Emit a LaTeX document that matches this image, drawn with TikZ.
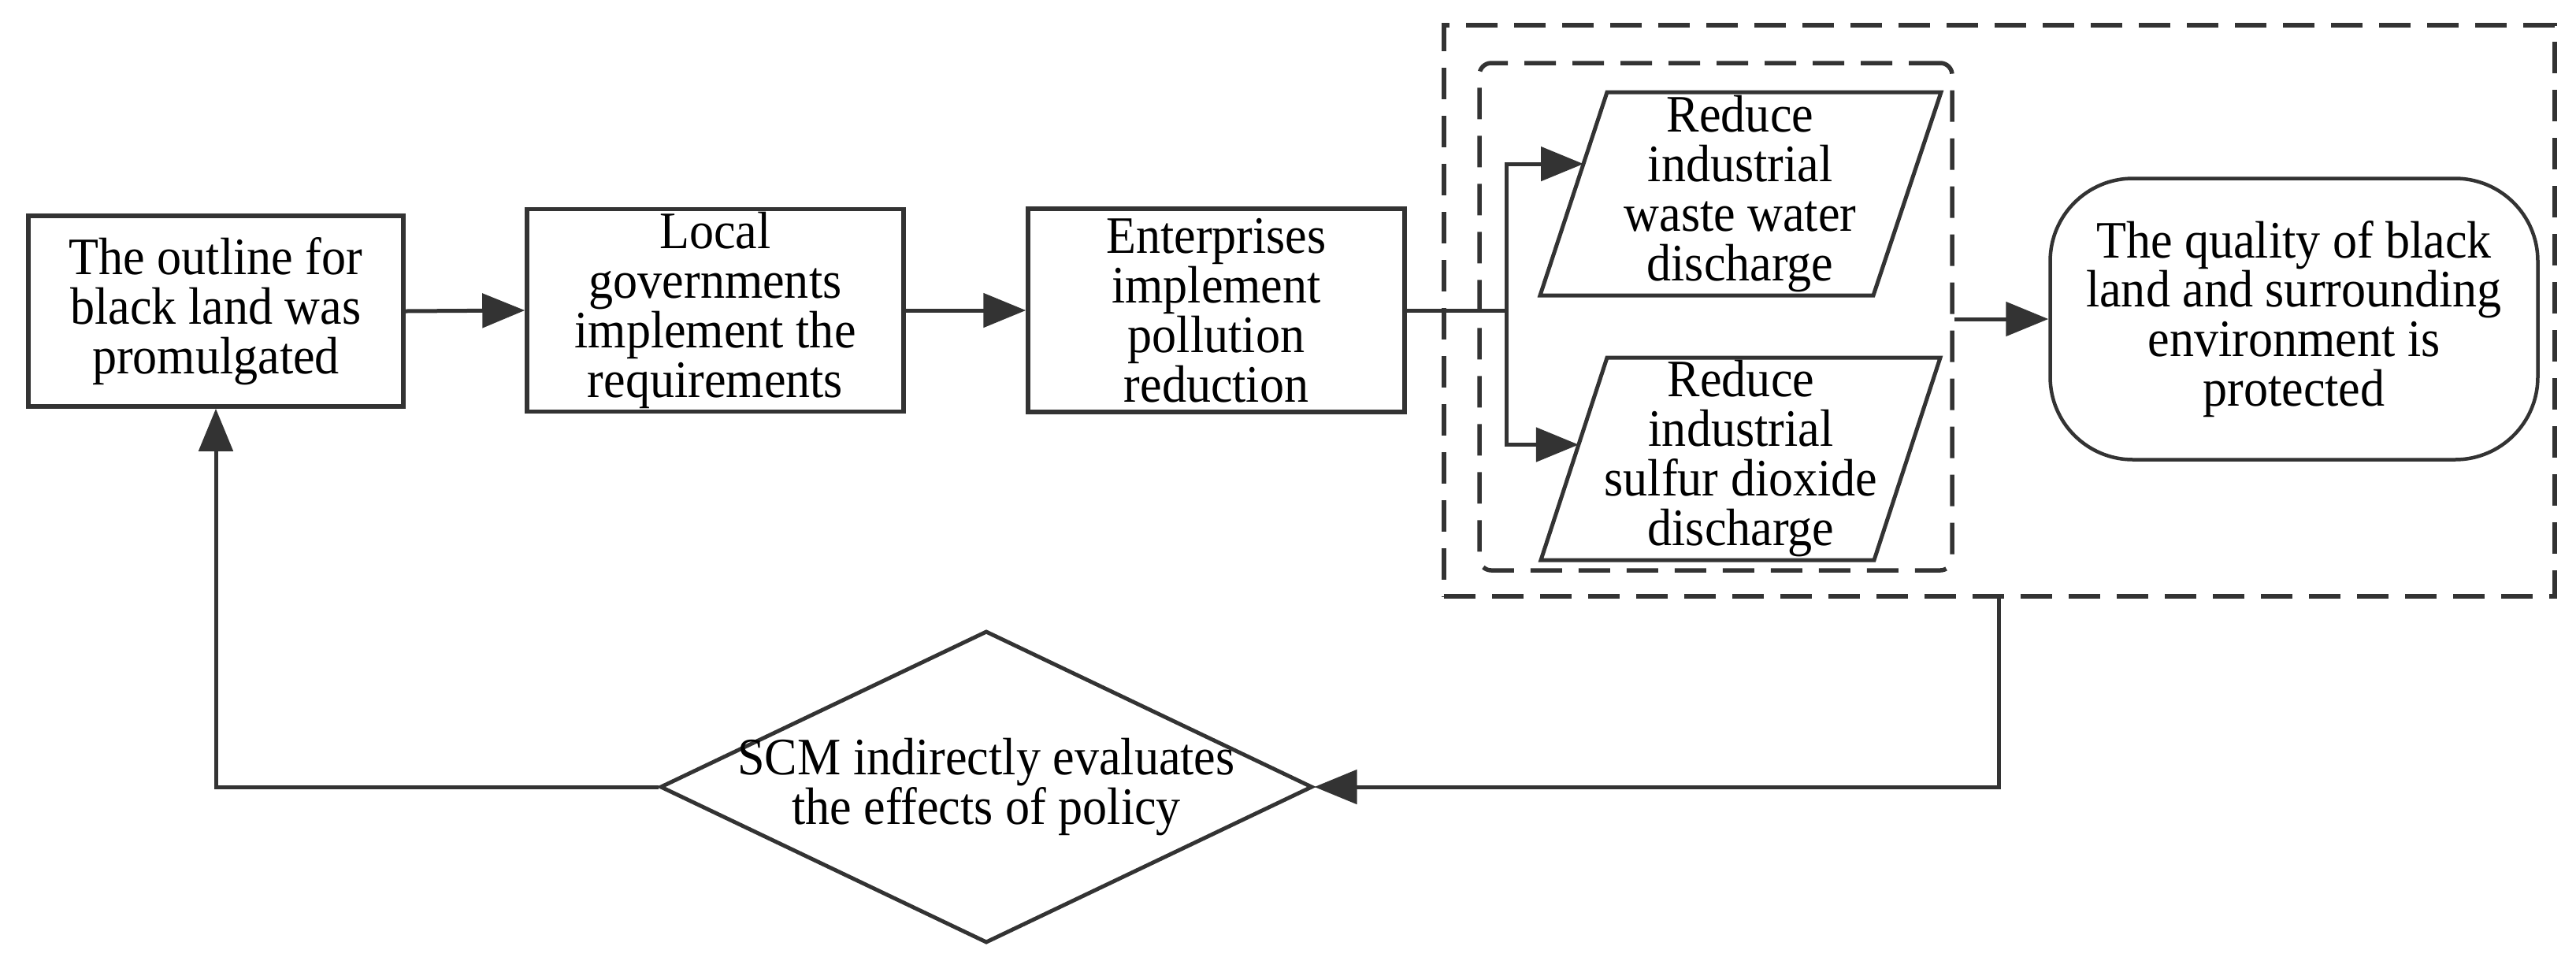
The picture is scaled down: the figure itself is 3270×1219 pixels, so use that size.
\documentclass[tikz,border=0pt]{standalone}
\usepackage{fontspec}
\setmainfont[FakeStretch=0.93]{Liberation Serif}
\usetikzlibrary{arrows.meta,shapes.geometric,fit,calc}
\definecolor{ln}{HTML}{333333}
\begin{document}
\begin{tikzpicture}[x=0.1mm,y=-0.1mm,
  font=\fontsize{19}{17.9}\selectfont,
  box/.style={draw=ln, line width=0.55mm, fill=white, align=center, inner sep=0},
  arr/.style={draw=ln, line width=0.5mm, -{Triangle[length=5.4mm,width=4.3mm]}},
  plain/.style={draw=ln, line width=0.5mm},
  dsh/.style={draw=ln, line width=0.55mm, dash pattern=on 4mm off 2.1mm},
  pg/.style={draw=ln, line width=0.5mm, fill=white},
  txt/.style={align=center, inner sep=0}
]
\useasboundingbox (0,0) rectangle (3270,1219);

% dashed groups
\coordinate (o1) at (1833,32);
\coordinate (o2) at (3243,757);
\node[dsh, fit=(o1)(o2), inner sep=0] (outer) {};
\coordinate (i1) at (1878,80);
\coordinate (i2) at (2478,724);
\node[dsh, rounded corners=1.5mm, fit=(i1)(i2), inner sep=0] (inner) {};

% main boxes
\node[box, minimum width=47.6mm, minimum height=24.2mm] (b1) at (274,395)
  {The outline for\\black land was\\promulgated};
\node[box, minimum width=47.8mm, minimum height=25.7mm] (b2) at (908,394)
  {Local\\governments\\implement the\\requirements};
\node[box, minimum width=47.8mm, minimum height=25.8mm] (b3) at (1544,394)
  {Enterprises\\implement\\pollution\\reduction};

% parallelograms
\coordinate (p1c) at (2209,246);
\draw[pg] ($(p1c)+(-169,-129)$) coordinate (p1tl) -- ($(p1c)+(255,-129)$)
  -- ($(p1c)+(169,129)$) -- ($(p1c)+(-254,129)$) coordinate (p1bl) -- cycle;
\node[txt] (p1) at (p1c) {Reduce\\industrial\\waste water\\discharge};

\coordinate (p2c) at (2210,582);
\draw[pg] ($(p2c)+(-170,-128)$) coordinate (p2tl) -- ($(p2c)+(253,-128)$)
  -- ($(p2c)+(169,129)$) -- ($(p2c)+(-254,129)$) coordinate (p2bl) -- cycle;
\node[txt] (p2) at (p2c) {Reduce\\industrial\\sulfur dioxide\\discharge};

% rounded terminal
\node[draw=ln, line width=0.45mm, fill=white, rounded corners=10.5mm,
  minimum width=61.9mm, minimum height=35.7mm, align=center, inner sep=0]
  (q) at (2912,405) {The quality of black\\land and surrounding\\environment is\\protected};

% decision diamond
\node[diamond, draw=ln, line width=0.5mm, minimum width=82.8mm,
  minimum height=39.6mm, inner sep=0] (scm) at (1252,999) {};
\node[txt] (scmt) at (scm.center) {SCM indirectly evaluates\\the effects of policy};

% connectors
\draw[arr] (b1.east) -- (b2.west);
\draw[arr] (b2.east) -- (b3.west);
\coordinate (br) at ($(b3.east)+(127,0)$);
\draw[plain] (b3.east) -- (br);
\coordinate (p1in) at ($(p1tl)!0.353!(p1bl)$);
\coordinate (p2in) at ($(p2tl)!0.43!(p2bl)$);
\draw[arr] (br) |- (p1in);
\draw[arr] (br) |- (p2in);
\draw[arr] (inner.east |- q.west) -- (q.west);
\coordinate (fx) at (2537,0);
\draw[arr] (outer.south -| fx) |- (scm.east);
\draw[arr] (scm.west) -| (b1.south);
\end{tikzpicture}
\end{document}
